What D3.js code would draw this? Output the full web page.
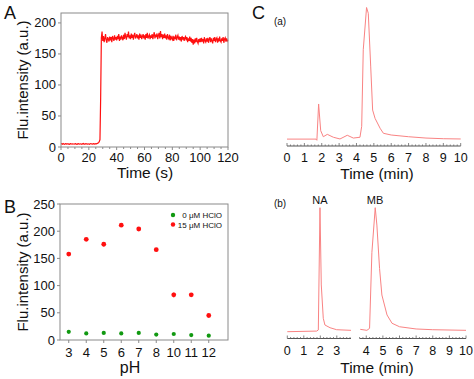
<!DOCTYPE html>
<html lang="en">
<head>
<script src="https://cdn.jsdelivr.net/npm/d3@7"></script>
<style>
  body { margin: 0; background: #fff; }
  text { font-family: "Liberation Sans", Arial, sans-serif; fill: #111; }
</style>
</head>
<body>
<svg width="474" height="379"></svg>
<script>
// ---------- panel A : kinetics ----------
var timeA = d3.range(0, 120.25, 0.5);
var intensityA = [
  4.8,5.2,4.5,5.6,4.9,4.3,5.1,5.4,4.7,4.9,5.3,4.6,4.4,5.0,5.5,4.8,4.6,5.2,4.9,4.5,
  5.1,5.4,4.7,4.3,5.0,5.3,4.8,4.6,5.2,4.9,4.4,5.1,5.6,4.7,4.5,5.0,5.3,4.8,4.6,5.1,
  4.9,4.4,5.2,5.5,4.8,4.6,5.0,5.3,4.7,4.9,5.4,5.0,5.6,6.2,7.0,8.5,
  12,80,176,186,
  171,179,169,175,182,172,168,177,174,170,
  178,172,177,169,179,175,171,180,173,177,
  172,179,174,182,171,178,173,180,176,172,
  181,174,184,177,173,182,177,186,175,180,
  174,183,176,181,173,180,184,175,178,182,
  175,180,173,183,176,181,174,178,182,175,
  180,173,182,176,184,175,178,181,174,180,
  176,182,174,180,185,175,181,177,183,174,
  180,184,175,187,177,182,174,181,176,183,
  175,180,173,182,176,174,181,172,179,175,
  173,179,171,178,174,181,172,177,180,173,
  178,172,177,170,179,173,177,171,176,178,
  172,177,169,175,171,178,170,176,168,174,
  165,173,167,175,169,176,170,167,174,169,
  175,169,176,170,174,167,177,171,169,175,
  170,176,168,174,177,169,175,171,167,176,
  171,177,169,174,176,168,175,170,178,171,
  169,175,171,177,168,174,176,170,175,171,
  173
];
var ticksAx = [0, 20, 40, 60, 80, 100, 120];
var ticksAy = [0, 50, 100, 150, 200];

// ---------- panel B : pH ----------
var phLevels = ["3", "4", "5", "6", "7", "8", "10", "11", "12"];
var blank    = [15, 12, 13, 12, 13, 10, 11, 9, 8];
var blankErr = [2, 1.5, 1.5, 1.5, 1.5, 1.5, 2, 1.5, 1.5];
var hclo     = [158, 185, 176, 211, 204, 166, 83, 83, 45];
var hcloErr  = [3, 3, 4, 3, 3, 3, 5, 3, 3];
var ticksBy  = [0, 50, 100, 150, 200, 250];
var legendB  = ["0 \u03bcM HClO", "15 \u03bcM HClO"];

// ---------- panel C : HPLC ----------
var timeCa   = [0, 1.67, 1.72, 1.82, 1.94, 2.09, 2.32, 2.67, 3.05, 3.47, 3.82, 4.2, 4.3, 4.39, 4.58, 4.68, 4.82, 4.93, 5.07, 5.36, 5.55, 6, 7, 8, 9, 10];
var signalCa = [0.3, 0.3, -0.6, 26.9, 6.7, 2.1, 3.9, 1.7, 0.4, 3.2, 1.1, 1.7, 10, 68, 100, 95.6, 55, 22.3, 16, 8.5, 4.7, 3.4, 2.1, 1.1, 0.6, 0.4];
var timeCbL   = [0, 1.78, 1.88, 1.98, 2.06, 2.18, 2.28, 2.59, 2.99, 3.86];
var signalCbL = [0, 0.5, 1.4, 100, 37.7, 10.8, 5.4, 3.2, 1.6, 1.1];
var timeCbR   = [3.64, 4.04, 4.2, 4.34, 4.54, 4.64, 4.8, 4.94, 5.25, 5.55, 6, 7, 8, 10];
var signalCbR = [1.9, 1.1, 2.7, 64, 100, 86, 51, 29.6, 13.5, 6.8, 4, 2.2, 1.6, 1.1];
var ticksCa  = [0, 1, 2, 3, 4, 5, 6, 7, 8, 9, 10];
var ticksCbL = [0, 1, 2, 3];
var ticksCbR = [4, 5, 6, 7, 8, 9, 10];

var svg = d3.select("svg");
var frameColor = "#8a8a8a";
var curveC = "#f98383";

function txt(g, x, y, s, size, anchor) {
  return g.append("text").attr("x", x).attr("y", y)
    .attr("font-size", size).attr("text-anchor", anchor || "middle").text(s);
}

// ================= panel A =================
var xA = d3.scaleLinear().domain([0, 120]).range([61, 228]);
var yA = d3.scaleLinear().domain([0, 216]).range([147, 13]);
var gA = svg.append("g");

gA.append("path")
  .datum(timeA)
  .attr("fill", "none")
  .attr("stroke", "#ff1010")
  .attr("stroke-width", 1.2)
  .attr("d", d3.line().x(function(d) { return xA(d); })
                      .y(function(d, i) { return yA(intensityA[i]); }));

gA.append("rect").attr("x", 61).attr("y", 13).attr("width", 167).attr("height", 134)
  .attr("fill", "none").attr("stroke", frameColor);

// y ticks
ticksAy.forEach(function(v) {
  gA.append("line").attr("x1", 58).attr("x2", 61).attr("y1", yA(v)).attr("y2", yA(v)).attr("stroke", frameColor);
  txt(gA, 56, yA(v) + 4.5, v, 13, "end");
});
// x ticks, minor every 5 s
d3.range(0, 121, 5).forEach(function(v) {
  var major = v % 20 === 0;
  gA.append("line").attr("x1", xA(v)).attr("x2", xA(v)).attr("y1", 147).attr("y2", 147 + (major ? 3 : 2))
    .attr("stroke", frameColor);
});
ticksAx.forEach(function(v) { txt(gA, xA(v), 162, v, 13); });

txt(gA, 145, 178, "Time (s)", 15.5);
gA.append("text").attr("transform", "translate(28,80) rotate(-90)")
  .attr("font-size", 15).attr("text-anchor", "middle").text("Flu.intensity (a.u.)");
txt(gA, 4, 19, "A", 18, "start");

// ================= panel B =================
var xB = d3.scaleLinear().domain([-0.5, 9.1]).range([60, 228]);
var yB = d3.scaleLinear().domain([0, 250]).range([340, 204]);
var gB = svg.append("g");

gB.append("rect").attr("x", 60).attr("y", 204).attr("width", 168).attr("height", 136)
  .attr("fill", "none").attr("stroke", frameColor);

ticksBy.forEach(function(v) {
  gB.append("line").attr("x1", 57).attr("x2", 60).attr("y1", yB(v)).attr("y2", yB(v)).attr("stroke", frameColor);
  txt(gB, 55, yB(v) + 4.5, v, 13, "end");
});
phLevels.forEach(function(p, i) {
  gB.append("line").attr("x1", xB(i)).attr("x2", xB(i)).attr("y1", 340).attr("y2", 343).attr("stroke", frameColor);
  txt(gB, xB(i), 357, p, 13);
});

// error bars + points
function series(vals, errs, color, r) {
  var g = gB.append("g");
  g.selectAll("line.err").data(vals).enter().append("line")
    .attr("x1", function(d, i) { return xB(i); })
    .attr("x2", function(d, i) { return xB(i); })
    .attr("y1", function(d, i) { return yB(d - errs[i]); })
    .attr("y2", function(d, i) { return yB(d + errs[i]); })
    .attr("stroke", "#f4a0a0").attr("stroke-width", 1.5);
  g.selectAll("circle").data(vals).enter().append("circle")
    .attr("cx", function(d, i) { return xB(i); })
    .attr("cy", function(d) { return yB(d); })
    .attr("r", r).attr("fill", color);
}
series(hclo, hcloErr, "#ff1010", 2.4);
series(blank, blankErr, "#119911", 2.1);

// legend
var legColors = ["#119911", "#ff1010"];
legendB.forEach(function(s, i) {
  gB.append("circle").attr("cx", 173).attr("cy", 215 + i * 9.5).attr("r", 2.2).attr("fill", legColors[i]);
  txt(gB, 222, 218 + i * 9.5, s, 8, "end");
});

txt(gB, 130, 373, "pH", 16);
gB.append("text").attr("transform", "translate(28,272) rotate(-90)")
  .attr("font-size", 15).attr("text-anchor", "middle").text("Flu.intensity (a.u.)");
txt(gB, 4, 213, "B", 18, "start");

// ================= panel C =================
var gC = svg.append("g");
txt(gC, 252, 19, "C", 18, "start");

function timeAxis(g, x, t0, t1, y, labels) {
  g.append("line").attr("x1", x(t0)).attr("x2", x(t1)).attr("y1", y).attr("y2", y)
    .attr("stroke", "#555").attr("stroke-width", 1);
  d3.range(Math.ceil(t0 * 5), Math.floor(t1 * 5) + 1).forEach(function(k) {
    var t = k / 5;
    g.append("line").attr("x1", x(t)).attr("x2", x(t)).attr("y1", y).attr("y2", y - (k % 5 === 0 ? 3 : 1.5))
      .attr("stroke", "#666").attr("stroke-width", 0.8);
  });
  labels.forEach(function(v) { txt(g, x(v), y + 16, v, 12.5); });
}

function curve(g, x, yS, ts, vs) {
  g.append("path").datum(ts)
    .attr("fill", "none").attr("stroke", curveC).attr("stroke-width", 1)
    .attr("d", d3.line().x(function(d) { return x(d); })
                        .y(function(d, i) { return yS(vs[i]); }));
}

// (a)
var xCa = d3.scaleLinear().domain([0, 10]).range([287, 460.7]);
var yCa = d3.scaleLinear().domain([0, 100]).range([139.5, 7.5]);
curve(gC, xCa, yCa, timeCa, signalCa);
timeAxis(gC, xCa, 0, 10, 146, ticksCa);
txt(gC, 377, 179, "Time (min)", 15.5);
txt(gC, 280, 25, "(a)", 10);

// (b) broken time axis
var xCbL = d3.scaleLinear().domain([0, 3.86]).range([287.3, 351]);
var xCbR = d3.scaleLinear().domain([3.6, 10]).range([359.6, 466]);
var yCb  = d3.scaleLinear().domain([0, 100]).range([331.7, 207.7]);
curve(gC, xCbL, yCb, timeCbL, signalCbL);
curve(gC, xCbR, yCb, timeCbR, signalCbR);
timeAxis(gC, xCbL, 0, 3.86, 338.5, ticksCbL);
timeAxis(gC, xCbR, 3.6, 10, 338.5, ticksCbR);
txt(gC, 377, 373, "Time (min)", 15.5);
txt(gC, 280, 207, "(b)", 10);
txt(gC, 320, 204, "NA", 11);
txt(gC, 375, 204, "MB", 11);
</script>
</body>
</html>
